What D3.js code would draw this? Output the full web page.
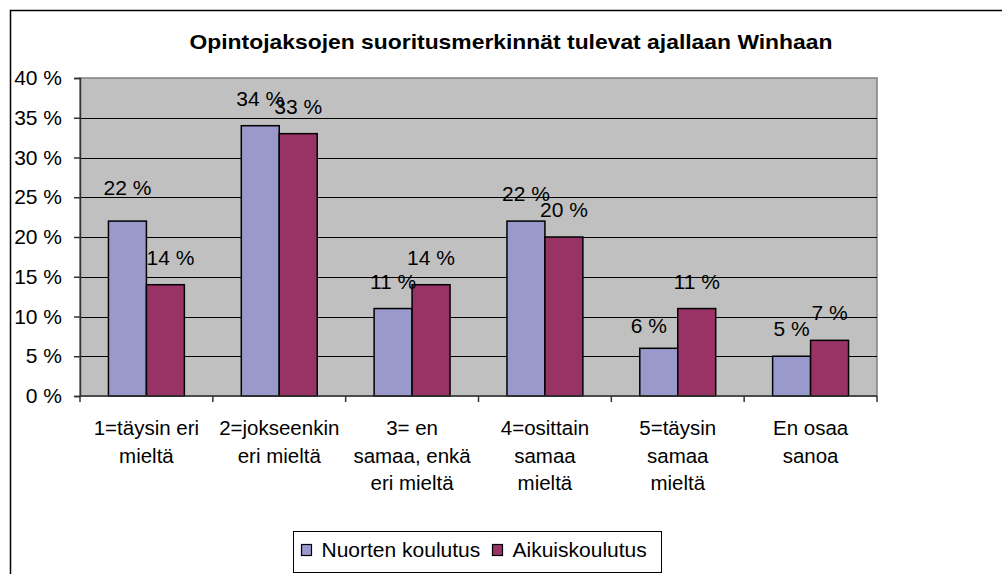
<!DOCTYPE html>
<html>
<head>
<meta charset="utf-8">
<script src="https://cdn.jsdelivr.net/npm/d3@7"></script>
<style>
	body { margin: 0; background: #fff; }
	svg { display: block; font-family: "Liberation Sans", Arial, sans-serif; }
</style>
</head>
<body>
<svg id="chart"></svg>
<script>
// categories (answer options), each split into display lines
const categories = ['1', '2', '3', '4', '5', 'EOS'];
const categoryLines = [
	['1=täysin eri', 'mieltä'],
	['2=jokseenkin', 'eri mieltä'],
	['3= en', 'samaa, enkä', 'eri mieltä'],
	['4=osittain', 'samaa', 'mieltä'],
	['5=täysin', 'samaa', 'mieltä'],
	['En osaa', 'sanoa'],
];
const seriesNames = ['Nuorten koulutus', 'Aikuiskoulutus'];
const nuortenValues = [22, 34, 11, 22, 6, 5];
const aikuisValues = [14, 33, 14, 20, 11, 7];
const yTicks = [0, 5, 10, 15, 20, 25, 30, 35, 40];
const title = 'Opintojaksojen suoritusmerkinnät tulevat ajallaan Winhaan';

const colors = ['#9999cc', '#993366'];

const config = {
	width: 1002,
	height: 574,
	margin: { top: 78, right: 125, bottom: 178, left: 80 },
};

const svg = d3
	.select('#chart')
	.attr('width', config.width)
	.attr('height', config.height);

const plotW = config.width - config.margin.left - config.margin.right;
const plotH = config.height - config.margin.top - config.margin.bottom;

// outer chart frame (runs off the bottom/right of the picture)
svg.append('rect')
	.attr('x', 10.5)
	.attr('y', 10.5)
	.attr('width', 1000)
	.attr('height', 600)
	.attr('fill', '#fff')
	.attr('stroke', '#000')
	.attr('stroke-width', 1.5);

svg.append('text')
	.attr('x', 511)
	.attr('y', 49)
	.attr('text-anchor', 'middle')
	.attr('font-weight', 'bold')
	.attr('font-size', 20.5)
	.attr('textLength', 643)
	.attr('lengthAdjust', 'spacingAndGlyphs')
	.text(title);

const chart = svg
	.append('g')
	.attr('transform', `translate(${config.margin.left},${config.margin.top})`);

const data = categories.map((c, i) => ({
	key: c,
	lines: categoryLines[i],
	values: [nuortenValues[i], aikuisValues[i]],
}));

const x0 = d3.scaleBand().domain(categories).range([0, plotW]).padding(0);
const x1 = d3
	.scaleBand()
	.domain(d3.range(seriesNames.length))
	.range([0, x0.bandwidth()])
	.paddingInner(0)
	.paddingOuter(0.75);
const y = d3.scaleLinear().domain([0, 40]).range([plotH, 0]);

// plot background + border
chart.append('rect')
	.attr('width', plotW)
	.attr('height', plotH)
	.attr('fill', '#c0c0c0')
	.attr('stroke', '#808080')
	.attr('stroke-width', 1.5);

// gridlines
chart.append('g')
	.selectAll('line')
	.data(yTicks.filter((t) => t > 0 && t < 40))
	.join('line')
	.attr('x1', 0)
	.attr('x2', plotW)
	.attr('y1', (d) => Math.round(y(d)) + 0.5)
	.attr('y2', (d) => Math.round(y(d)) + 0.5)
	.attr('stroke', '#000')
	.attr('stroke-width', 1);

// y axis
const yAxisG = chart
	.append('g')
	.call(
		d3.axisLeft(y)
			.tickValues(yTicks)
			.tickSize(6)
			.tickPadding(12)
			.tickFormat((d) => d + ' %')
	);
yAxisG.select('.domain').attr('stroke', '#333').attr('stroke-width', 1.5);
yAxisG.selectAll('line').attr('stroke', '#333').attr('stroke-width', 1.5);
yAxisG.selectAll('text')
	.attr('font-size', 21)
	.attr('fill', '#000')
	.attr('font-family', '"Liberation Sans", Arial, sans-serif');

// bars
const groups = chart
	.selectAll('.cat')
	.data(data)
	.join('g')
	.attr('class', 'cat')
	.attr('transform', (d) => `translate(${x0(d.key)},0)`);

groups
	.selectAll('rect')
	.data((d) => d.values.map((v, i) => ({ v, i, key: d.key })))
	.join('rect')
	.attr('x', (d) => x1(d.i))
	.attr('y', (d) => y(d.v))
	.attr('width', x1.bandwidth())
	.attr('height', (d) => plotH - y(d.v))
	.attr('fill', (d) => colors[d.i])
	.attr('stroke', '#000')
	.attr('stroke-width', 1.5);

// Excel-style placement tweaks for a few labels
const labelNudge = { '1|0': [0, -6], '1|1': [5, 0], '5|0': [-10, 5] };

groups
	.selectAll('.val')
	.data((d) => d.values.map((v, i) => ({ v, i, key: d.key })))
	.join('text')
	.attr('class', 'val')
	.attr('x', (d) => x1(d.i) + x1.bandwidth() / 2 + (labelNudge[d.key + '|' + d.i] || [0, 0])[0])
	.attr('y', (d) => y(d.v) - 20 + (labelNudge[d.key + '|' + d.i] || [0, 0])[1])
	.attr('text-anchor', 'middle')
	.attr('font-size', 21)
	.text((d) => d.v + ' %');

// x axis line and boundary ticks
chart.append('line')
	.attr('x1', 0)
	.attr('x2', plotW)
	.attr('y1', plotH)
	.attr('y2', plotH)
	.attr('stroke', '#333')
	.attr('stroke-width', 1.5);

chart.append('g')
	.selectAll('line')
	.data(d3.range(categories.length + 1))
	.join('line')
	.attr('x1', (i) => i * x0.step())
	.attr('x2', (i) => i * x0.step())
	.attr('y1', plotH)
	.attr('y2', plotH + 6)
	.attr('stroke', '#333')
	.attr('stroke-width', 1.5);

// category labels
const catText = chart
	.append('g')
	.selectAll('text')
	.data(data)
	.join('text')
	.attr('text-anchor', 'middle')
	.attr('font-size', 20.5)
	.attr('transform', (d) => `translate(${x0(d.key) + x0.bandwidth() / 2},${plotH + 39})`);

catText
	.selectAll('tspan')
	.data((d) => d.lines)
	.join('tspan')
	.attr('x', 0)
	.attr('y', (d, i) => i * 27.5)
	.text((d) => d);

// legend
const legend = svg.append('g').attr('transform', 'translate(293.5,531.5)');

legend.append('rect')
	.attr('width', 368)
	.attr('height', 41)
	.attr('fill', '#fff')
	.attr('stroke', '#000')
	.attr('stroke-width', 1);

const legendX = [8, 199];
seriesNames.forEach((name, i) => {
	legend.append('rect')
		.attr('x', legendX[i])
		.attr('y', 13)
		.attr('width', 10)
		.attr('height', 11)
		.attr('fill', colors[i])
		.attr('stroke', '#000')
		.attr('stroke-width', 1.2);
	legend.append('text')
		.attr('x', legendX[i] + 20)
		.attr('y', 25)
		.attr('font-size', 21)
		.text(name);
});
</script>
</body>
</html>
